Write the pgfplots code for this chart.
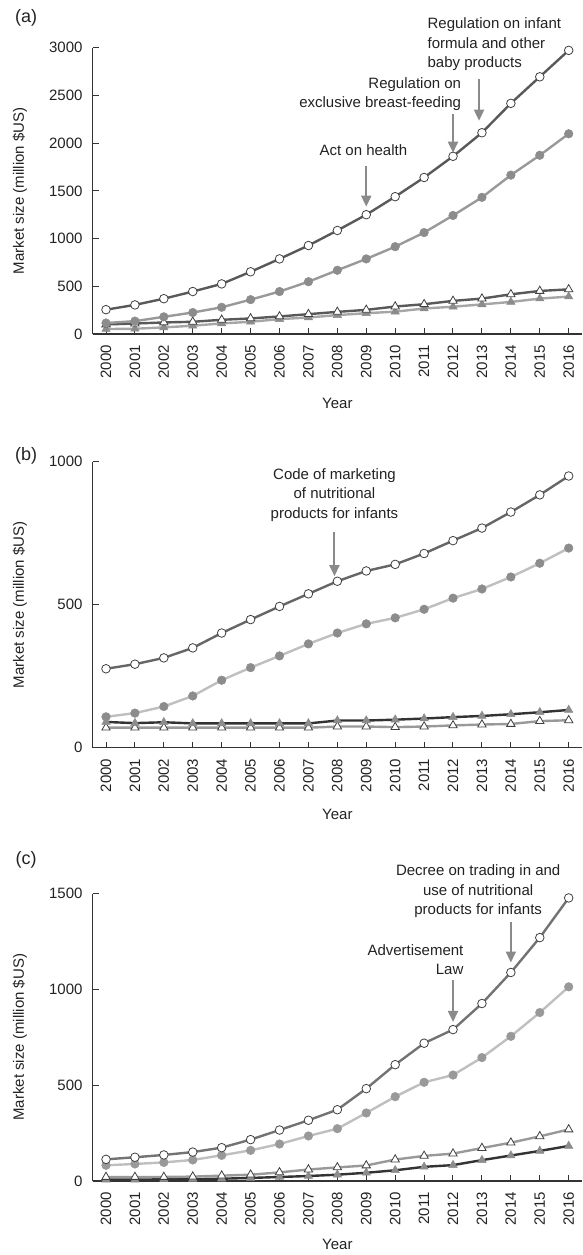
\documentclass[border=0pt]{standalone}
\usepackage{fontspec}
\setmainfont{Liberation Sans}
\usepackage{pgfplots}
\pgfplotsset{compat=1.18}
\usepackage{pgfplotstable}
\usetikzlibrary{arrows.meta}

\definecolor{axc}{HTML}{333333}
\definecolor{anncol}{HTML}{8A8A8A}
\definecolor{txt}{HTML}{222222}

\pgfplotstableread{
year oc fc ot ft
2000 255 115 100 52
2001 305 135 110 55
2002 370 180 121 69
2003 445 225 128 87
2004 525 280 149 111
2005 652 360 163 128
2006 787 445 184 156
2007 927 548 208 173
2008 1085 668 232 198
2009 1250 787 253 218
2010 1439 915 288 234
2011 1640 1063 312 267
2012 1862 1242 347 286
2013 2109 1432 371 310
2014 2417 1665 416 336
2015 2695 1873 451 371
2016 2972 2098 468 392
}\tabA

\pgfplotstableread{
year oc fc ot ft
2000 276 108 70 90
2001 292 121 70 86
2002 314 144 70 89
2003 349 181 70 85
2004 401 236 70 85
2005 448 280 70 85
2006 494 321 70 85
2007 538 363 70 85
2008 582 401 74 95
2009 618 433 74 95
2010 641 454 72 98
2011 679 484 74 102
2012 724 523 78 107
2013 768 555 81 111
2014 824 597 83 117
2015 884 645 93 124
2016 950 698 96 132
}\tabB

\pgfplotstableread{
year oc fc ot ft
2000 113 82 21 7
2001 124 89 21 7
2002 136 97 21 9
2003 151 110 23 10
2004 174 134 28 12
2005 216 160 33 16
2006 266 193 45 21
2007 317 235 60 26
2008 372 273 71 33
2009 482 355 81 43
2010 607 440 112 56
2011 719 515 131 74
2012 790 553 143 83
2013 926 644 172 109
2014 1088 755 200 133
2015 1270 879 233 157
2016 1477 1013 269 183
}\tabC

\pgfplotsset{
  panel/.style={
    scale only axis, width=489.3pt, anchor=south west,
    axis lines=left, axis line style={-, draw=axc, line width=1.3pt},
    tick align=inside, major tick length=6pt,
    tick style={draw=axc, line width=1pt},
    xmin=1999.54, xmax=2016.46, ymin=0,
    xtick={2000,...,2016},
    /pgf/number format/1000 sep={},
    /pgf/number format/assume math mode=true,
    scaled ticks=false,
    tick label style={font=\fontsize{15}{18}\selectfont, inner sep=0pt, text=txt},
    xticklabel style={rotate=90, anchor=east},
    xticklabel shift=11pt, yticklabel shift=10pt,
    clip=false,
    label style={font=\fontsize{15}{18}\selectfont, text=txt},
    xlabel=Year, ylabel={Market size (million \$US)},
    ylabel style={at={(axis description cs:-0.1486,0.5)}, anchor=center},
  },
  lw/.style={line width=2.4pt},
  ocm/.style={mark=*, mark size=4.3pt, mark options={fill=white, draw=black!75, line width=0.8pt}},
  fcm/.style={mark=*, mark size=4.3pt, mark options={fill=#1, draw=#1, line width=0.5pt}},
  otm/.style={mark=triangle*, mark size=4.8pt, mark options={fill=white, draw=black!75, line width=0.8pt}},
  ftm/.style={mark=triangle*, mark size=4.8pt, mark options={fill=#1, draw=#1, line width=0.5pt}},
}
\tikzset{
  ann/.style={draw=anncol, line width=2pt, -{Triangle[width=10pt,length=11pt]}},
  annt/.style={font=\fontsize{15}{19.5}\selectfont, text=txt},
  plab/.style={font=\fontsize{18}{20}\selectfont, text=txt},
}

\begin{document}
\begin{tikzpicture}
\useasboundingbox (0pt,0pt) rectangle (582pt,-1255pt);

% ---------------- (a)
\begin{axis}[panel, at={(92.7pt,-334pt)}, height=286.3pt, ymax=3000,
  ytick={0,500,...,3000},
  xlabel style={at={(axis description cs:0.5,0)}, anchor=center, yshift=-69pt}]
\addplot[lw, color=black!35, ftm=black!45] table[x=year, y=ft] {\tabA};
\addplot[lw, color=black!65, otm] table[x=year, y=ot] {\tabA};
\addplot[lw, color=black!40, fcm=black!45] table[x=year, y=fc] {\tabA};
\addplot[lw, color=black!65, ocm] table[x=year, y=oc] {\tabA};
\node[plab] at (axis description cs:-0.136,1.104) {(a)};
\node[annt] at (axis cs:2008.9,1925) {Act on health};
\draw[ann] (axis cs:2009,1762) -- (axis cs:2009,1335);
\node[annt, align=right, anchor=east] at (axis cs:2012.4,2514) {Regulation on\\exclusive breast-feeding};
\draw[ann] (axis cs:2012,2306) -- (axis cs:2012,1900);
\node[annt, align=left, anchor=west] at (axis cs:2011.0,3035) {Regulation on infant\\formula and other\\baby products};
\draw[ann] (axis cs:2012.9,2671) -- (axis cs:2012.9,2235);
\end{axis}

% ---------------- (b)
\begin{axis}[panel, at={(92.7pt,-747.7pt)}, height=286pt, ymax=1000,
  ytick={0,500,1000},
  xlabel style={at={(axis description cs:0.5,0)}, anchor=center, yshift=-67pt}]
\addplot[lw, color=black!40, otm] table[x=year, y=ot] {\tabB};
\addplot[lw, color=black!80, ftm=black!45] table[x=year, y=ft] {\tabB};
\addplot[lw, color=black!25, fcm=black!45] table[x=year, y=fc] {\tabB};
\addplot[lw, color=black!60, ocm] table[x=year, y=oc] {\tabB};
\node[plab] at (axis description cs:-0.136,1.02) {(b)};
\node[annt, align=center] at (axis cs:2007.9,884) {Code of marketing\\of nutritional\\products for infants};
\draw[ann] (axis cs:2007.9,753) -- (axis cs:2007.9,600);
\end{axis}

% ---------------- (c)
\begin{axis}[panel, at={(92.7pt,-1181pt)}, height=287.5pt, ymax=1500,
  ytick={0,500,1000,1500},
  xlabel style={at={(axis description cs:0.5,0)}, anchor=center, yshift=-63pt}]
\addplot[lw, color=black!80, ftm=black!45] table[x=year, y=ft] {\tabC};
\addplot[lw, color=black!40, otm] table[x=year, y=ot] {\tabC};
\addplot[lw, color=black!25, fcm=black!40] table[x=year, y=fc] {\tabC};
\addplot[lw, color=black!55, ocm] table[x=year, y=oc] {\tabC};
\node[plab] at (axis description cs:-0.136,1.117) {(c)};
\node[annt, align=center] at (axis cs:2012.87,1512) {Decree on trading in and\\use of nutritional\\products for infants};
\draw[ann] (axis cs:2014,1352) -- (axis cs:2014,1140);
\node[annt, align=right, anchor=east] at (axis cs:2012.48,1154) {Advertisement\\Law};
\draw[ann] (axis cs:2012,1047) -- (axis cs:2012,830);
\end{axis}
\end{tikzpicture}
\end{document}
